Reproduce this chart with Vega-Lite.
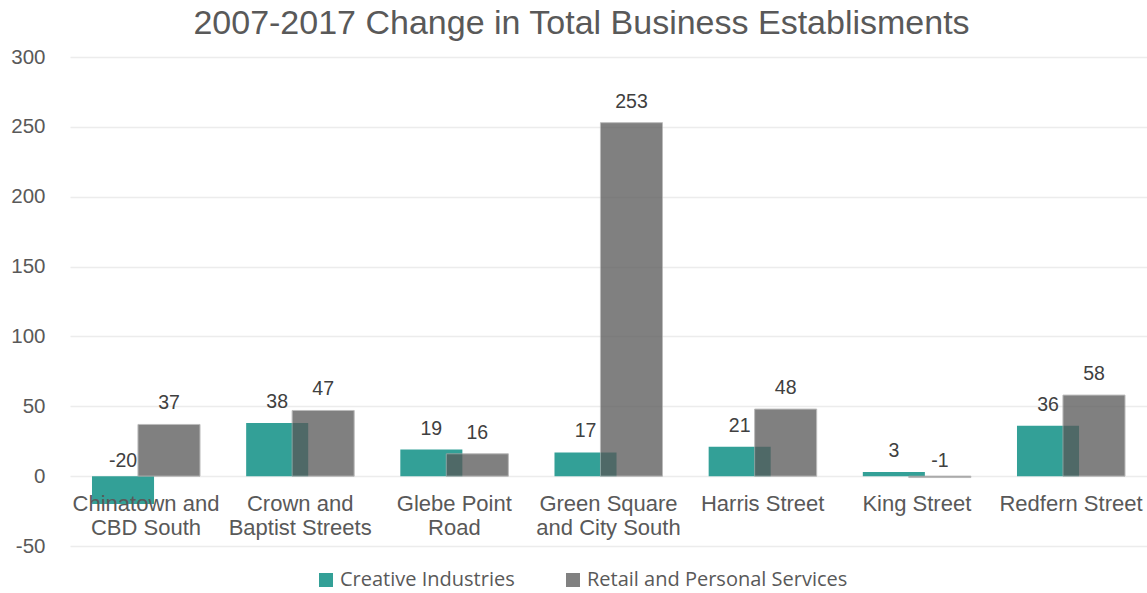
{
  "$schema": "https://vega.github.io/schema/vega-lite/v6.json",
  "width": 1147,
  "height": 593,
  "autosize": {"type": "fit", "contains": "padding"},
  "padding": {"left": 10, "top": 7, "right": 0, "bottom": 36},
  "background": "white",
  "title": {
    "text": "2007-2017 Change in Total Business Establisments",
    "font": "Liberation Sans",
    "fontSize": 34,
    "fontWeight": "normal",
    "color": "#595959",
    "offset": 6,
    "dx": -27
  },
  "config": {"view": {"stroke": null}},
  "data": {
    "values": [
      {"site": "Chinatown and CBD South", "series": "Creative Industries", "value": -20},
      {"site": "Crown and Baptist Streets", "series": "Creative Industries", "value": 38},
      {"site": "Glebe Point Road", "series": "Creative Industries", "value": 19},
      {"site": "Green Square and City South", "series": "Creative Industries", "value": 17},
      {"site": "Harris Street", "series": "Creative Industries", "value": 21},
      {"site": "King Street", "series": "Creative Industries", "value": 3},
      {"site": "Redfern Street", "series": "Creative Industries", "value": 36},
      {"site": "Chinatown and CBD South", "series": "Retail and Personal Services", "value": 37},
      {"site": "Crown and Baptist Streets", "series": "Retail and Personal Services", "value": 47},
      {"site": "Glebe Point Road", "series": "Retail and Personal Services", "value": 16},
      {"site": "Green Square and City South", "series": "Retail and Personal Services", "value": 253},
      {"site": "Harris Street", "series": "Retail and Personal Services", "value": 48},
      {"site": "King Street", "series": "Retail and Personal Services", "value": -1},
      {"site": "Redfern Street", "series": "Retail and Personal Services", "value": 58}
    ]
  },
  "encoding": {
    "x": {
      "field": "site",
      "type": "nominal",
      "sort": null,
      "scale": {"paddingInner": 0.3, "paddingOuter": 0.143},
      "axis": null
    }
  },
  "layer": [
    {
      "transform": [{"filter": "datum.series === 'Creative Industries'"}],
      "mark": {"type": "bar", "width": {"band": 0.575}, "xOffset": {"expr": "-0.213 * bandwidth('x')"}},
      "encoding": {
        "y": {
          "field": "value",
          "type": "quantitative",
          "scale": {"domain": [-50, 300], "nice": false, "zero": false},
          "axis": {
            "title": null,
            "values": [-50, 0, 50, 100, 150, 200, 250, 300],
            "labelExpr": "datum.value + ''",
            "grid": true,
            "gridColor": "#ececec",
            "gridWidth": 1.5,
            "domain": false,
            "ticks": false,
            "labelPadding": 25,
            "labelFont": "Liberation Sans",
            "labelFontSize": 20.5,
            "labelColor": "#595959"
          }
        },
        "color": {
          "field": "series",
          "type": "nominal",
          "scale": {
            "domain": ["Creative Industries", "Retail and Personal Services"],
            "range": ["#33a097", "#595959"]
          },
          "legend": {
            "title": null,
            "orient": "none",
            "legendX": 246,
            "legendY": 513,
            "direction": "horizontal",
            "symbolType": "square",
            "symbolSize": 196,
            "symbolStrokeWidth": 0,
            "labelFont": "Open Sans",
            "labelFontSize": 20,
            "labelColor": "#595959",
            "labelLimit": 400,
            "labelOffset": 4,
            "columnPadding": 48,
            "padding": 0
          }
        },
        "opacity": {
          "field": "series",
          "type": "nominal",
          "scale": {
            "domain": ["Creative Industries", "Retail and Personal Services"],
            "range": [1, 0.76]
          }
        }
      }
    },
    {
      "transform": [{"filter": "datum.series === 'Retail and Personal Services'"}],
      "mark": {"type": "bar", "width": {"band": 0.575}, "xOffset": {"expr": "0.213 * bandwidth('x')"}, "stroke": "#a6a6a6", "strokeWidth": 1},
      "encoding": {
        "y": {"field": "value", "type": "quantitative"},
        "color": {"field": "series", "type": "nominal"},
        "opacity": {"field": "series", "type": "nominal"}
      }
    },
    {
      "mark": {"type": "rule", "color": "#bfbfbf", "strokeWidth": 3},
      "encoding": {"y": {"datum": 0}}
    },
    {
      "transform": [
        {"filter": "datum.series === 'Creative Industries'"},
        {"calculate": "datum.value < 0 ? -4 : datum.value", "as": "labelPos"},
        {"calculate": "datum.value + ''", "as": "valueLabel"}
      ],
      "mark": {
        "type": "text",
        "font": "Liberation Sans",
        "fontSize": 19.5,
        "color": "#404040",
        "baseline": "middle",
        "dy": -21,
        "xOffset": {"expr": "-0.213 * bandwidth('x')"}
      },
      "encoding": {
        "y": {"field": "labelPos", "type": "quantitative"},
        "text": {"field": "valueLabel"}
      }
    },
    {
      "transform": [
        {"filter": "datum.series === 'Retail and Personal Services'"},
        {"calculate": "datum.value < 0 ? -4 : datum.value", "as": "labelPos"},
        {"calculate": "datum.value + ''", "as": "valueLabel"}
      ],
      "mark": {
        "type": "text",
        "font": "Liberation Sans",
        "fontSize": 19.5,
        "color": "#404040",
        "baseline": "middle",
        "dy": -21,
        "xOffset": {"expr": "0.213 * bandwidth('x')"}
      },
      "encoding": {
        "y": {"field": "labelPos", "type": "quantitative"},
        "text": {"field": "valueLabel"}
      }
    },
    {
      "transform": [
        {"filter": "datum.series === 'Creative Industries'"},
        {"calculate": "{'Chinatown and CBD South': ['Chinatown and', 'CBD South'], 'Crown and Baptist Streets': ['Crown and', 'Baptist Streets'], 'Glebe Point Road': ['Glebe Point', 'Road'], 'Green Square and City South': ['Green Square', 'and City South'], 'Harris Street': ['Harris Street'], 'King Street': ['King Street'], 'Redfern Street': ['Redfern Street']}[datum.site]", "as": "lines"}
      ],
      "mark": {
        "type": "text",
        "font": "Liberation Sans",
        "fontSize": 22,
        "color": "#595959",
        "baseline": "top",
        "dy": 18,
        "lineHeight": 24
      },
      "encoding": {
        "y": {"datum": 0},
        "text": {"field": "lines"}
      }
    }
  ]
}
